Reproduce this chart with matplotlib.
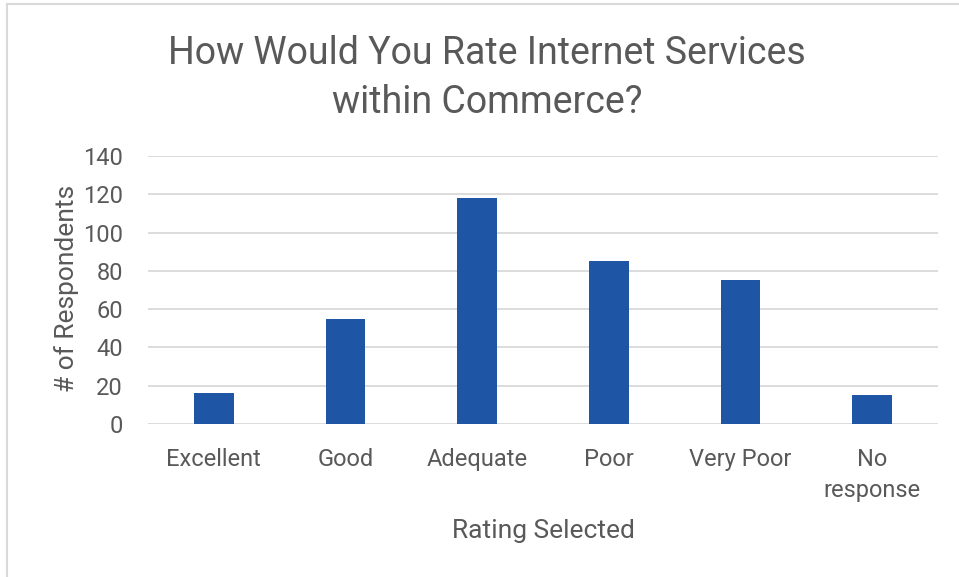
import matplotlib
matplotlib.use("Agg")
import matplotlib.pyplot as plt
from matplotlib.lines import Line2D

ratings = ["Excellent", "Good", "Adequate", "Poor", "Very Poor", "No\nresponse"]
respondents = [16, 55, 118, 85, 75, 15]
yticks = [0, 20, 40, 60, 80, 100, 120, 140]

TEXT = "#595959"
GRID = "#d9d9d9"
BAR = "#1f55a5"

plt.rcParams['font.family'] = ['Roboto', 'DejaVu Sans']

fig = plt.figure(figsize=(9.59, 5.77), dpi=100)
W, H = 959, 577
ax = fig.add_axes([148 / W, 1 - 424 / H, (938 - 148) / W, (424 - 156) / H])

x = range(len(ratings))
ax.bar(x, respondents, width=0.3, color=BAR, zorder=3)

ax.set_xlim(-0.5, len(ratings) - 0.5)
ax.set_ylim(0, 140)
ax.set_yticks(yticks)
ax.set_xticks(list(x))
ax.set_xticklabels(ratings, fontsize=17, color=TEXT, linespacing=1.45, va="top")
ax.tick_params(axis="y", labelsize=17, labelcolor=TEXT, length=0, pad=18)
ax.tick_params(axis="x", length=0, pad=17)
ax.grid(axis="y", color=GRID, lw=1.3, zorder=0)
for s in ax.spines.values():
    s.set_visible(False)

# axis titles placed in figure pixels
fig.text(543 / W, 1 - 531 / H, "Rating Selected", ha="center", va="center",
         fontsize=19, color=TEXT)
fig.text(67 / W, 1 - 288 / H, "# of Respondents", ha="center", va="center",
         rotation=90, fontsize=19, color=TEXT)

fig.text(487 / W, 1 - 78 / H, "How Would You Rate Internet Services\nwithin Commerce?",
         ha="center", va="center", fontsize=27, color=TEXT, linespacing=1.42)

# outer chart frame (top and left edges)
fig.add_artist(Line2D([7 / W, 7 / W], [0, 1 - 4 / H], color=GRID, lw=1.5))
fig.add_artist(Line2D([7 / W, 1], [1 - 4 / H, 1 - 4 / H], color=GRID, lw=1.5))

fig.savefig("out.png", dpi=100)
